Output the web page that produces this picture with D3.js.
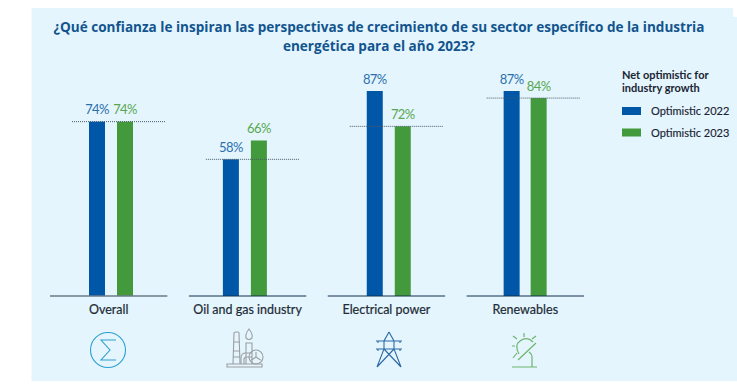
<!DOCTYPE html>
<html>
<head>
<meta charset="utf-8">
<script src="https://cdn.jsdelivr.net/npm/d3@7"></script>
<style>
	html, body { margin: 0; padding: 0; background: #fff; }
	svg { display: block; }
	text { font-family: Lato, sans-serif; }
	.title { font-family: "Open Sans", sans-serif; font-size: 13.55px; font-weight: 700; fill: #12548e; }
	.cat { font-size: 12.5px; fill: #222b35; stroke: #222b35; stroke-width: 0.2px; }
	.val { font-size: 13px; letter-spacing: -0.6px; }
	.legend-title { font-size: 11px; font-weight: 700; fill: #1a2433; }
	.legend-item { font-size: 11px; fill: #1a2433; stroke: #1a2433; stroke-width: 0.15px; }
</style>
</head>
<body>
<svg id="chart" width="737" height="385"></svg>
<script>
var categories = ['Overall', 'Oil and gas industry', 'Electrical power', 'Renewables'];
var optimistic2022 = [74, 58, 87, 87];
var optimistic2023 = [74, 66, 72, 84];
var netOptimistic = [74, 58, 72, 84];
var seriesNames = ['Optimistic 2022', 'Optimistic 2023'];
var titleLines = [
	'¿Qué confianza le inspiran las perspectivas de crecimiento de su sector específico de la industria',
	'energética para el año 2023?'
];

var blue = '#0057a8';
var green = '#439a3c';

var svg = d3.select('#chart');

// panel, the top right corner is notched in the original
svg.append('path')
	.attr('d', 'M31.5 8 H733 V17 H737 V381 H31.5 Z')
	.attr('fill', '#e4f5fd');

svg.selectAll('.title').data(titleLines).enter().append('text')
	.attr('class', 'title')
	.attr('x', 379)
	.attr('y', function(d, i) { return 32 + i * 19; })
	.attr('text-anchor', 'middle')
	.text(function(d) { return d; });

// group bands: baselines are 117px wide with about 21px between them
var groupScale = d3.scaleBand()
	.domain(categories)
	.range([50, 584])
	.paddingInner(0.155)
	.paddingOuter(0);

var yScale = d3.scaleLinear().domain([0, 87]).range([296, 91]);

var barWidth = 16;
// bar offsets in each group differ a little in the original artwork
var barOffsets = [[39, 67], [34, 62], [39, 67], [37, 64]];

var groups = svg.selectAll('.group').data(categories).enter().append('g')
	.attr('class', 'group')
	.attr('transform', function(d) { return 'translate(' + groupScale(d) + ',0)'; });

groups.append('rect')
	.attr('x', function(d, i) { return barOffsets[i][0]; })
	.attr('y', function(d, i) { return yScale(optimistic2022[i]); })
	.attr('width', barWidth)
	.attr('height', function(d, i) { return yScale(0) - yScale(optimistic2022[i]); })
	.attr('fill', blue);

groups.append('rect')
	.attr('x', function(d, i) { return barOffsets[i][1]; })
	.attr('y', function(d, i) { return yScale(optimistic2023[i]); })
	.attr('width', barWidth)
	.attr('height', function(d, i) { return yScale(0) - yScale(optimistic2023[i]); })
	.attr('fill', green);

// baseline
groups.append('line')
	.attr('x1', 0)
	.attr('x2', groupScale.bandwidth())
	.attr('y1', yScale(0))
	.attr('y2', yScale(0))
	.attr('stroke', function(d, i) { return i == 0 ? '#6c7a88' : '#12304f'; })
	.attr('stroke-width', function(d, i) { return i == 0 ? 1.6 : 1; });

// net optimistic dotted line
groups.append('line')
	.attr('x1', function(d, i) { return barOffsets[i][0] - 17; })
	.attr('x2', function(d, i) { return barOffsets[i][0] + 77; })
	.attr('y1', function(d, i) { return yScale(netOptimistic[i]); })
	.attr('y2', function(d, i) { return yScale(netOptimistic[i]); })
	.attr('stroke', '#4a5a68')
	.attr('stroke-width', 1)
	.attr('stroke-dasharray', '1 1');

groups.append('text')
	.attr('class', 'val')
	.attr('x', function(d, i) { return barOffsets[i][0] + barWidth / 2; })
	.attr('y', function(d, i) { return yScale(optimistic2022[i]) - 7.5; })
	.attr('text-anchor', 'middle')
	.attr('fill', '#2a70ad')
	.text(function(d, i) { return optimistic2022[i] + '%'; });

groups.append('text')
	.attr('class', 'val')
	.attr('x', function(d, i) { return barOffsets[i][1] + barWidth / 2; })
	.attr('y', function(d, i) { return yScale(optimistic2023[i]) - 7.5; })
	.attr('text-anchor', 'middle')
	.attr('fill', '#58a850')
	.text(function(d, i) { return optimistic2023[i] + '%'; });

groups.append('text')
	.attr('class', 'cat')
	.attr('x', groupScale.bandwidth() / 2)
	.attr('y', 314)
	.attr('text-anchor', 'middle')
	.text(function(d) { return d; });

// legend
var legend = svg.append('g').attr('transform', 'translate(622,0)');
legend.selectAll('.legend-title').data(['Net optimistic for', 'industry growth']).enter().append('text')
	.attr('class', 'legend-title')
	.attr('x', 0)
	.attr('y', function(d, i) { return 79 + i * 12.5; })
	.text(function(d) { return d; });
var legendRows = legend.selectAll('.row').data(seriesNames).enter().append('g')
	.attr('transform', function(d, i) { return 'translate(0,' + (107 + i * 21.5) + ')'; });
legendRows.append('rect')
	.attr('width', 19).attr('height', 8)
	.attr('fill', function(d, i) { return i == 0 ? blue : green; });
legendRows.append('text')
	.attr('class', 'legend-item')
	.attr('x', 29)
	.attr('y', 8)
	.text(function(d) { return d; });

// icons
function icon(x, y, color, width) {
	return svg.append('g')
		.attr('transform', 'translate(' + x + ',' + y + ')')
		.attr('fill', 'none')
		.attr('stroke', color)
		.attr('stroke-width', width);
}

var sigma = icon(108, 350, '#2e9fd0', 1.1);
sigma.append('circle').attr('r', 17.5);
sigma.append('path').attr('d', 'M8 -10 H-7 L2 0 L-7 10 H8');

var rig = icon(220, 325, '#9a9ea2', 1.1);
rig.append('path').attr('d', 'M7 42 H42 V39 H7 Z M13 39 L14 8 Q14 7 16 7 H18 Q19 7 19 8 L20 39 M13 17 H20 M13 26 H20 M13 32 H20');
rig.append('path').attr('d', 'M26 39 V18 H32 V39 M29 4 Q25 9 26 13 Q29 16 32 13 Q33 9 29 4 Z');
rig.append('path').attr('d', 'M21 39 V33 Q21 28 26 28 H32 M24 39 V34 Q24 32 27 32 H32');
rig.append('circle').attr('cx', 36).attr('cy', 32).attr('r', 7);
rig.append('path').attr('d', 'M36 32 V27 M36 32 L31.5 35 M36 32 L40.5 35');

var tower = icon(365, 325, '#2c6aa5', 1.1);
tower.append('path').attr('d', 'M24 7 L19 16 V24 L12 42 M24 7 L29 16 V24 L36 42 M19 24 L36 42 M29 24 L12 42 M11 16 H37 M11 24 H37');
tower.append('path').attr('d', 'M13 16 V18 M35 16 V18 M13 24 V26 M35 24 V26');

var solar = icon(500, 325, '#6db56f', 1.2);
solar.append('path').attr('d', 'M12 42 H37 M32 42 V32 Q32 29 29 27 M36 18 L18 35');
solar.append('path').attr('d', 'M19 29 Q14 20 20 16 Q27 11 33 17');
solar.append('path').attr('d', 'M24 8 V12 M13 11 L17 14 M36 11 L32 14 M12 21 H15 M17 28 L13 33');
</script>
</body>
</html>
